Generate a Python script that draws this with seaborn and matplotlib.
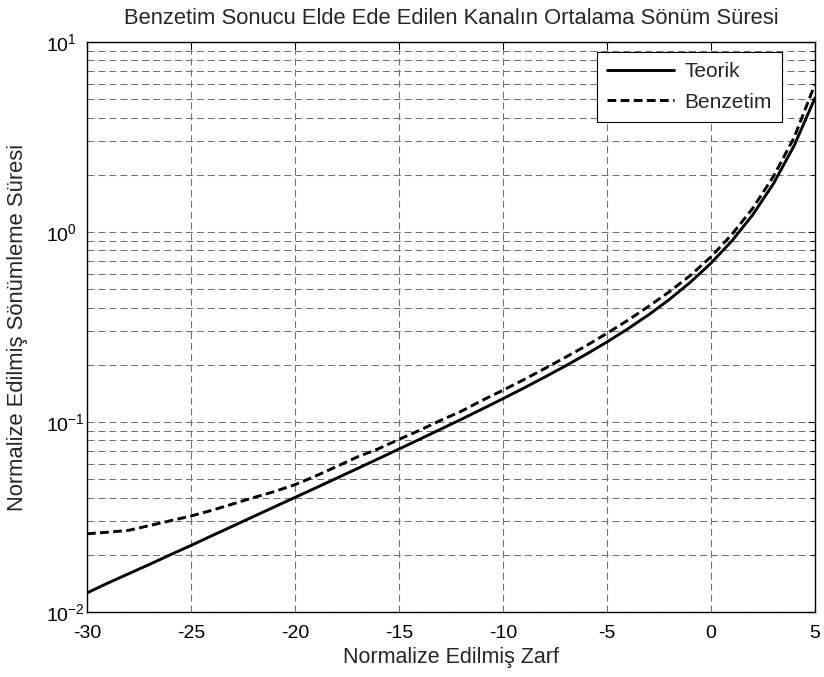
import numpy as np
import pandas as pd
import matplotlib
matplotlib.use("Agg")
import matplotlib.pyplot as plt
import seaborn as sns
from matplotlib.ticker import LogLocator, MultipleLocator, NullFormatter

# Normalized envelope level (dB)
zarf_db = [-30, -29, -28, -27, -26, -25, -24, -23, -22, -21, -20, -19, -18,
           -17, -16, -15, -14, -13, -12, -11, -10, -9, -8, -7, -6, -5, -4,
           -3, -2, -1, 0, 1, 2, 3, 4, 5]

# Normalized average fade duration, theoretical curve
teorik = [0.0126, 0.0142, 0.0159, 0.0178, 0.0200, 0.0224, 0.0252, 0.0283,
          0.0318, 0.0357, 0.0401, 0.0450, 0.0506, 0.0569, 0.0640, 0.0721,
          0.0812, 0.0916, 0.1034, 0.1170, 0.1327, 0.1509, 0.1722, 0.1972,
          0.2273, 0.2638, 0.3092, 0.3666, 0.4416, 0.5430, 0.6854, 0.8966,
          1.2291, 1.7946, 2.852, 5.076]

# Normalized average fade duration, simulated channel
benzetim = [0.0258, 0.0263, 0.0269, 0.0285, 0.0302, 0.0320, 0.0343, 0.0370,
            0.0400, 0.0430, 0.0468, 0.0520, 0.0583, 0.0655, 0.0722, 0.0810,
            0.0905, 0.1020, 0.1140, 0.1300, 0.1470, 0.1670, 0.1910, 0.2190,
            0.2520, 0.2930, 0.3430, 0.4060, 0.4850, 0.5900, 0.7400, 0.9700,
            1.3300, 1.9600, 3.1500, 6.0000]

series_names = ["Teorik", "Benzetim"]

df = pd.DataFrame({
    "zarf": zarf_db * 2,
    "sure": teorik + benzetim,
    "seri": [series_names[0]] * len(zarf_db) + [series_names[1]] * len(zarf_db),
})

sns.set_style("white")
plt.rcParams["font.family"] = ["Liberation Sans", "DejaVu Sans"]
plt.rcParams["mathtext.fontset"] = "custom"
plt.rcParams["mathtext.rm"] = "Liberation Sans"
plt.rcParams["axes.unicode_minus"] = False

fig = plt.figure(figsize=(8.24, 6.77), dpi=100)
ax = fig.add_axes([0.1056, 0.096, 0.8835, 0.842])

sns.lineplot(data=df, x="zarf", y="sure", hue="seri", style="seri",
             palette=["black", "black"],
             dashes={"Teorik": "", "Benzetim": (3.0, 1.5)},
             linewidth=2.1, ax=ax, legend=True)

ax.set_yscale("log")
ax.set_xlim(-30, 5)
ax.set_ylim(1e-2, 1e1)
ax.xaxis.set_major_locator(MultipleLocator(5))
ax.yaxis.set_major_locator(LogLocator(base=10, numticks=10))
ax.yaxis.set_minor_locator(LogLocator(base=10, subs=np.arange(2, 10), numticks=20))
ax.yaxis.set_minor_formatter(NullFormatter())

grid_kw = dict(color="#707070", linestyle=(0, (6.7, 3.8)), linewidth=0.75)
ax.grid(True, which="major", axis="both", **grid_kw)
ax.grid(True, which="minor", axis="y", **grid_kw)

ax.tick_params(which="both", direction="in", top=True, right=True,
               colors="black", labelsize=14)
ax.tick_params(which="major", length=5, width=0.8)
ax.tick_params(which="minor", length=3, width=0.8)
ax.tick_params(axis="x", pad=9)
ax.tick_params(axis="y", pad=29.5)
for lbl in ax.get_yticklabels():
    lbl.set_horizontalalignment("left")
for s in ax.spines.values():
    s.set_color("black")
    s.set_linewidth(1.0)

ax.set_title("Benzetim Sonucu Elde Ede Edilen Kanalın Ortalama Sönüm Süresi",
             fontsize=15.8, pad=13)
ax.set_xlabel("Normalize Edilmiş Zarf", fontsize=15.5, labelpad=4)
ax.set_ylabel("Normalize Edilmiş Sönümleme Süresi", fontsize=15.8, labelpad=13)

leg = ax.legend(loc="upper right", bbox_to_anchor=(0.955, 0.983),
                frameon=True, fancybox=False, fontsize=15, handlelength=3.2,
                handletextpad=0.5, borderpad=0.5, labelspacing=0.55,
                edgecolor="black", framealpha=1.0, borderaxespad=0.0)
leg.get_frame().set_linewidth(0.8)
for line in leg.get_lines():
    line.set_linewidth(2.1)

fig.savefig("out.png", dpi=100, facecolor="white")
